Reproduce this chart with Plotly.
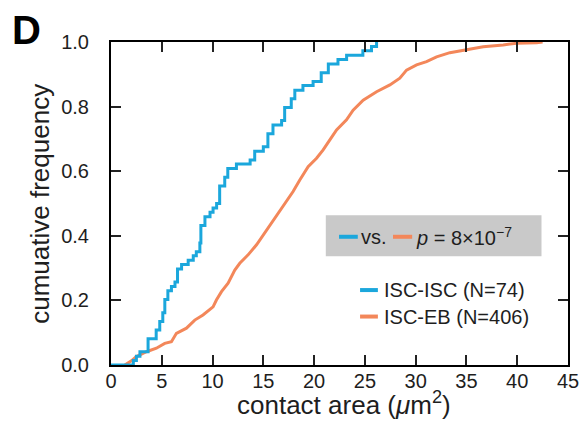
"""
Cumulative frequency of contact area, ISC-ISC vs ISC-EB
"""
import plotly.graph_objects as go

#* Data (step vertices of the two ECDFs)
blue_x = [0.0, 2.2, 2.5, 2.85, 3.65, 4.45, 4.8, 5.1, 5.3, 5.6, 5.95, 6.3, 6.55, 6.95, 7.6, 8.1, 8.4,
          8.75, 8.85, 9.25, 9.75, 10.05, 10.4, 10.7, 11.2, 11.5, 12.35, 13.7, 14.15, 15.0, 15.45,
          15.95, 16.8, 17.1, 17.75, 18.1, 18.9, 19.9, 20.7, 21.4, 22.35, 23.2, 24.8, 25.65, 26.15]
blue_y = [0.0, 0.014, 0.027, 0.041, 0.081, 0.108, 0.135, 0.162, 0.203, 0.23, 0.243, 0.257, 0.297,
          0.311, 0.324, 0.338, 0.351, 0.378, 0.432, 0.459, 0.473, 0.486, 0.5, 0.554, 0.581, 0.608,
          0.622, 0.635, 0.662, 0.676, 0.716, 0.743, 0.757, 0.797, 0.824, 0.851, 0.865, 0.878, 0.905,
          0.932, 0.946, 0.959, 0.973, 0.986, 1.0]

#* ISC-EB has many small steps, so it is traced as a polyline
orange_x = [1.36, 2.01, 2.5, 3.49, 4.47, 5.29, 5.95, 6.44, 7.43, 8.25, 9.06, 10.05, 10.38, 10.88,
            11.53, 12.19, 12.68, 13.5, 14.33, 14.98, 15.8, 16.62, 17.28, 17.93, 18.59, 19.41, 20.24,
            20.89, 21.55, 22.21, 23.19, 23.84, 24.83, 26.15, 27.46, 28.44, 29.1, 30.09, 31.07, 32.06,
            33.37, 35.01, 36.65, 38.62, 39.94, 41.91, 42.5]
orange_y = [0.0, 0.013, 0.026, 0.041, 0.052, 0.067, 0.072, 0.098, 0.114, 0.139, 0.155, 0.18,
            0.201, 0.227, 0.253, 0.294, 0.315, 0.341, 0.372, 0.402, 0.439, 0.475, 0.506, 0.537, 0.573,
            0.614, 0.64, 0.666, 0.697, 0.728, 0.759, 0.789, 0.82, 0.846, 0.867, 0.888, 0.913, 0.929,
            0.939, 0.954, 0.967, 0.975, 0.985, 0.991, 0.996, 0.998, 1.0]

names = ["ISC-ISC (N=74)", "ISC-EB (N=406)"]
p_text = "<i>p</i> = 8×10<sup>−7</sup>"
x_title = "contact area (<i>μ</i>m<sup>2</sup>)"
y_title = "cumuative frequency"

BLUE = "#1BA7DC"
ORANGE = "#F3875A"
FONT = "Liberation Sans"
TXT = "#1e1e1e"

fig = go.Figure()

fig.add_trace(go.Scatter(x=orange_x, y=orange_y, mode="lines",
                         line=dict(color=ORANGE, width=3), name=names[1], showlegend=False))
fig.add_trace(go.Scatter(x=blue_x, y=blue_y, mode="lines", line_shape="hv",
                         line=dict(color=BLUE, width=3), name=names[0], showlegend=False))

#* Grey p-value box
fig.add_shape(type="rect", xref="paper", yref="paper", x0=0.470, x1=0.942, y0=0.337, y1=0.464,
              fillcolor="#c9c9c9", line_width=0, layer="below")
fig.add_shape(type="line", xref="paper", yref="paper", x0=0.499, x1=0.540, y0=0.397, y1=0.397,
              line=dict(color=BLUE, width=4))
fig.add_shape(type="line", xref="paper", yref="paper", x0=0.617, x1=0.659, y0=0.397, y1=0.397,
              line=dict(color=ORANGE, width=4))
fig.add_annotation(xref="paper", yref="paper", x=0.543, y=0.397, text="vs.", showarrow=False,
                   xanchor="left", yanchor="middle", font=dict(family=FONT, size=20, color=TXT))
fig.add_annotation(xref="paper", yref="paper", x=0.663, y=0.397, text=p_text, showarrow=False,
                   xanchor="left", yanchor="middle", font=dict(family=FONT, size=20, color=TXT))

#* Legend entries
for yy, col, nm in [(0.232, BLUE, names[0]), (0.150, ORANGE, names[1])]:
    fig.add_shape(type="line", xref="paper", yref="paper", x0=0.545, x1=0.584, y0=yy, y1=yy,
                  line=dict(color=col, width=4))
    fig.add_annotation(xref="paper", yref="paper", x=0.594, y=yy, text=nm, showarrow=False,
                       xanchor="left", yanchor="middle", font=dict(family=FONT, size=20, color=TXT))

#* Panel letter
fig.add_annotation(xref="paper", yref="paper", x=-0.222, y=1.11, text="<b>D</b>", showarrow=False,
                   xanchor="left", yanchor="top", font=dict(family=FONT, size=40, color="black"))

#* Axis titles as annotations (plotly's standoff cannot get as close as the reference)
fig.add_annotation(xref="paper", yref="paper", x=0.51, y=-0.118, text=x_title, showarrow=False,
                   xanchor="center", yanchor="middle", font=dict(family=FONT, size=26, color=TXT))
fig.add_annotation(xref="paper", yref="paper", x=-0.157, y=0.5, text=y_title, showarrow=False,
                   textangle=-90, xanchor="center", yanchor="middle",
                   font=dict(family=FONT, size=26, color=TXT))

axis_common = dict(
    showline=True, linecolor="black", linewidth=2, mirror="ticks",
    ticks="inside", ticklen=10, tickwidth=1.5, tickcolor="#222",
    showgrid=False, zeroline=False, automargin=False,
    tickfont=dict(family=FONT, size=20, color=TXT),
)

#* page body has an 8 px margin, so the figure is 8 px smaller than the window
fig.update_layout(
    width=580, height=417,
    margin=dict(l=103, r=20, t=34, b=60),
    paper_bgcolor="white", plot_bgcolor="white",
    font=dict(family=FONT, color=TXT),
    xaxis=dict(range=[0, 45], dtick=5, tick0=0, ticklabelstandoff=-3, **axis_common),
    yaxis=dict(range=[0, 1], dtick=0.2, tick0=0, tickformat=".1f", ticklabelstandoff=16,
               **axis_common),
)

fig.write_html("out.html")
